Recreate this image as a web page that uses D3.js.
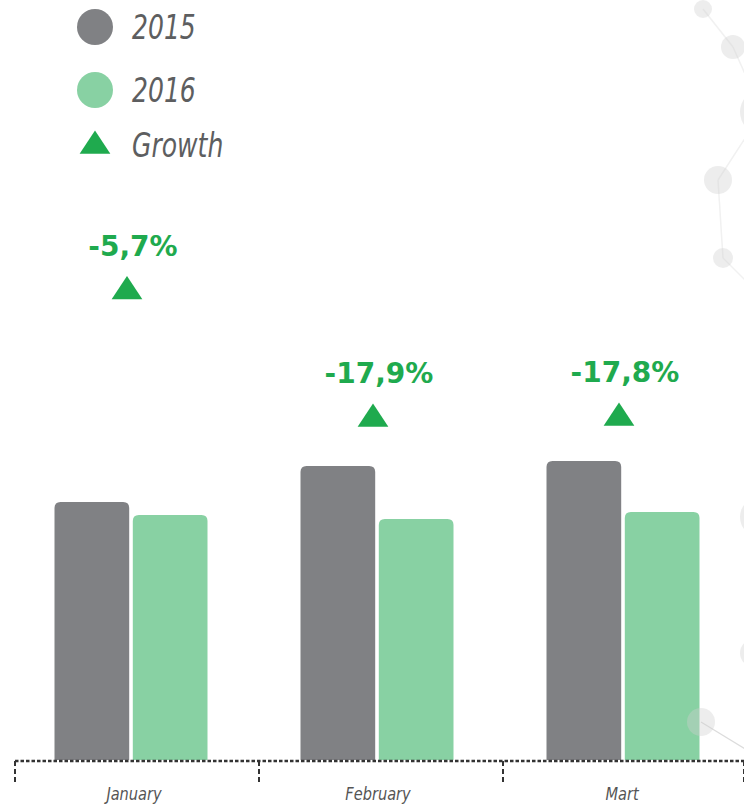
<!DOCTYPE html>
<html>
<head>
<meta charset="utf-8">
<script src="https://cdn.jsdelivr.net/npm/d3@7"></script>
<style>
  html, body { margin: 0; padding: 0; background: #fff; }
  svg { display: block; }
  .narrow { font-family: "DejaVu Sans Condensed", "DejaVu Sans", sans-serif; font-style: italic; }
</style>
</head>
<body>
<svg width="744" height="804"></svg>
<script>
var months = ["January", "February", "Mart"];
var series = ["2015", "2016"];
var values2015 = [258, 294, 299];
var values2016 = [245, 241, 248];
var growth = [-5.7, -17.9, -17.8];
var growthLabels = ["-5,7%", "-17,9%", "-17,8%"];

// background "molecule" decoration
var decoNodes = [[703, 9, 9], [733, 47, 12], [762, 112, 22], [718, 180, 14], [723, 258, 10],
                 [760, 517, 20], [754, 653, 14], [701, 722, 14]];
var decoLinks = [[0, 1], [1, 2], [2, 3], [3, 4]];

var colors = {"2015": "#808184", "2016": "#88d1a3"};
var green = "#1faa4e";

var svg = d3.select("svg"),
    width = +svg.attr("width"),
    height = +svg.attr("height");

var baseY = 760;
var squeeze = 0.82;

var x0 = d3.scaleBand().domain(months).range([8, 746]);
var x1 = d3.scaleBand().domain(series).range([0, 153]).paddingInner(0.046);
var y = d3.scaleLinear().domain([0, 300]).range([baseY, baseY - 300]);
var g = d3.scaleLinear().domain([0, -20]).range([232, 441]);
var xAxisScale = d3.scaleBand().domain(months).range([15, 747]);

// decoration
var deco = svg.append("g").attr("class", "deco");
deco.selectAll("line")
  .data(decoLinks)
  .enter().append("line")
    .attr("x1", function(d) { return decoNodes[d[0]][0]; })
    .attr("y1", function(d) { return decoNodes[d[0]][1]; })
    .attr("x2", function(d) { return decoNodes[d[1]][0]; })
    .attr("y2", function(d) { return decoNodes[d[1]][1]; })
    .attr("stroke", "#f1f1f1").attr("stroke-width", 1.5);
deco.append("line").attr("x1", 723).attr("y1", 258).attr("x2", 750).attr("y2", 285)
    .attr("stroke", "#f1f1f1").attr("stroke-width", 1.5);
deco.append("line").attr("x1", 701).attr("y1", 722).attr("x2", 750).attr("y2", 752)
    .attr("stroke", "#dcdcdc").attr("stroke-width", 1.2);

var rows = months.map(function(m, i) {
  return {month: m, vals: [{s: "2015", v: values2015[i]}, {s: "2016", v: values2016[i]}]};
});

function topRounded(x, yTop, w, h, r) {
  return "M" + x + "," + (yTop + h) +
    "V" + (yTop + r) +
    "Q" + x + "," + yTop + " " + (x + r) + "," + yTop +
    "H" + (x + w - r) +
    "Q" + (x + w) + "," + yTop + " " + (x + w) + "," + (yTop + r) +
    "V" + (yTop + h) + "Z";
}

var groups = svg.append("g").attr("class", "bars")
  .selectAll("g")
  .data(rows)
  .enter().append("g")
    .attr("transform", function(d) { return "translate(" + (x0(d.month) + (x0.bandwidth() - 153) / 2) + ",0)"; });

groups.selectAll("path")
  .data(function(d) { return d.vals; })
  .enter().append("path")
    .attr("d", function(d) {
      return topRounded(x1(d.s), y(d.v), x1.bandwidth(), baseY - y(d.v), 6);
    })
    .attr("fill", function(d) { return colors[d.s]; });

// decoration nodes drawn over bars (one overlaps the last bar)
deco.raise();
deco.selectAll("circle")
  .data(decoNodes)
  .enter().append("circle")
    .attr("cx", function(d) { return d[0]; })
    .attr("cy", function(d) { return d[1]; })
    .attr("r", function(d) { return d[2]; })
    .attr("fill", "#cfcfcf")
    .attr("fill-opacity", 0.38);

// growth markers
var tri = d3.symbol().type(d3.symbolTriangle).size(370);
var gm = svg.append("g").attr("class", "growth");
gm.selectAll("path")
  .data(growth)
  .enter().append("path")
    .attr("d", tri)
    .attr("transform", function(d, i) {
      return "translate(" + (x0(months[i]) + x0.bandwidth() / 2 - 4) + "," + g(d) + ") scale(1.05,0.92)";
    })
    .attr("fill", green);
gm.selectAll("text")
  .data(growth)
  .enter().append("text")
    .attr("x", function(d, i) { return x0(months[i]) + x0.bandwidth() / 2 + 2; })
    .attr("y", function(d) { return g(d) - 36; })
    .attr("text-anchor", "middle")
    .attr("font-family", "DejaVu Sans")
    .attr("font-weight", "bold")
    .attr("font-size", 28)
    .attr("fill", green)
    .text(function(d, i) { return growthLabels[i]; });

// baseline axis, dotted
var axis = svg.append("g").attr("class", "axis");
axis.append("line")
  .attr("x1", xAxisScale.range()[0]).attr("x2", width)
  .attr("y1", baseY + 1).attr("y2", baseY + 1)
  .attr("stroke", "#333").attr("stroke-width", 2.4)
  .attr("stroke-dasharray", "3.5,2");
axis.selectAll("line.tick")
  .data(months.concat(["end"]))
  .enter().append("line")
    .attr("class", "tick")
    .attr("x1", function(d, i) { return i < months.length ? xAxisScale(d) : xAxisScale.range()[1] - 3; })
    .attr("x2", function(d, i) { return i < months.length ? xAxisScale(d) : xAxisScale.range()[1] - 3; })
    .attr("y1", baseY + 1).attr("y2", baseY + 23)
    .attr("stroke", "#333").attr("stroke-width", 2)
    .attr("stroke-dasharray", "5,3");
axis.selectAll("text")
  .data(months)
  .enter().append("text")
    .attr("class", "narrow")
    .attr("transform", function(d) {
      return "translate(" + (xAxisScale(d) + xAxisScale.bandwidth() / 2 - 3) + ",800) scale(0.9,1)";
    })
    .attr("text-anchor", "middle")
    .attr("font-size", 18)
    .attr("fill", "#555")
    .text(function(d) { return d; });

// legend
var legend = svg.append("g").attr("class", "legend");
var legendItems = ["2015", "2016", "Growth"];
var ly = d3.scalePoint().domain(legendItems).range([27, 145]);
legend.selectAll("circle")
  .data(series)
  .enter().append("circle")
    .attr("cx", 95).attr("cy", function(d) { return ly(d) + (d === "2016" ? 4 : 0); })
    .attr("r", 18)
    .attr("fill", function(d) { return colors[d]; });
legend.append("path")
  .attr("d", tri)
  .attr("transform", "translate(95," + (ly("Growth") + 1) + ") scale(1.05,0.92)")
  .attr("fill", green);
legend.selectAll("text")
  .data(legendItems)
  .enter().append("text")
    .attr("class", "narrow")
    .attr("transform", function(d) {
      return "translate(132," + (ly(d) + (d === "2016" ? 4 : 0) + 12) + ") scale(" + squeeze + ",1)";
    })
    .attr("font-size", 34)
    .attr("fill", "#5d5e60")
    .text(function(d) { return d; });
</script>
</body>
</html>
